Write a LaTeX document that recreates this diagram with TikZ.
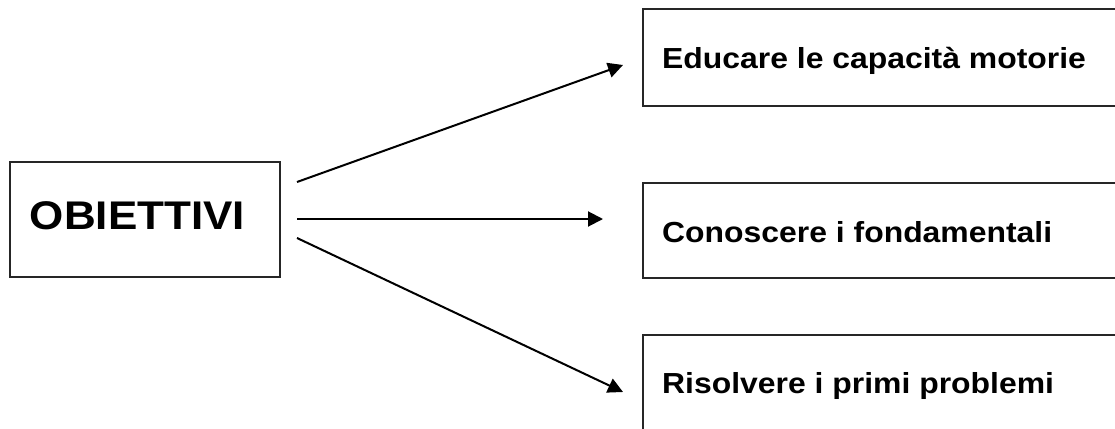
\documentclass[tikz,border=0pt]{standalone}
\usepackage{fontspec}
\setmainfont{Liberation Sans}
\newfontfamily\boxfont[FakeStretch=1.1]{Liberation Sans}
\usetikzlibrary{arrows.meta}
\tikzset{
  frame/.style={draw=black!85, line width=1.8pt, inner sep=0pt, anchor=north west},
  label/.style={inner sep=0pt, font=\boxfont\bfseries\fontsize{29}{32}\selectfont, anchor=base west},
  conn/.style={line width=2pt, -{Triangle[length=15pt,width=15pt]}}
}
\begin{document}
\begin{tikzpicture}[x=1pt,y=-1pt]
\useasboundingbox (0,0) rectangle (1115,428);
% boxes
\node[frame, minimum width=270pt, minimum height=115pt] (obj) at (9,161) {};
\node[frame, minimum width=490pt, minimum height=97pt] (b1) at (642,8) {};
\node[frame, minimum width=490pt, minimum height=95pt] (b2) at (642,182) {};
\node[frame, minimum width=490pt, minimum height=110pt] (b3) at (642,334) {};
% texts
\node[inner sep=0pt, anchor=base, font=\boxfont\bfseries\fontsize{40}{44}\selectfont] (tobj) at (137.5,229.5) {OBIETTIVI};
\node[label] (t1) at (662,68) {Educare le capacità motorie};
\node[label] (t2) at (662,242) {Conoscere i fondamentali};
\node[label] (t3) at (662,393) {Risolvere i primi problemi};
% connectors
\coordinate (s1) at (297,182);
\coordinate (s2) at (297,219);
\coordinate (s3) at (297,238);
\coordinate (e1) at (623,65);
\coordinate (e2) at (603,219);
\coordinate (e3) at (623,392);
\draw[conn] (s1) -- (e1);
\draw[conn] (s2) -- (e2);
\draw[conn] (s3) -- (e3);
\end{tikzpicture}
\end{document}
